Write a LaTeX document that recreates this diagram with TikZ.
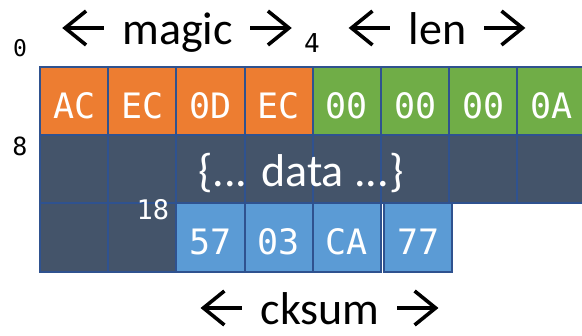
\documentclass[tikz,border=0pt]{standalone}
\usepackage{fontspec}
\setmainfont{Carlito}
\newfontfamily\hexfont{DejaVu Sans Mono}
\definecolor{magicfill}{HTML}{ED7D31}
\definecolor{lenfill}{HTML}{70AD47}
\definecolor{datafill}{HTML}{44546A}
\definecolor{sumfill}{HTML}{5B9BD5}
\definecolor{cellborder}{HTML}{2F528F}
\begin{document}
\begin{tikzpicture}[x=1pt,y=-1pt,
  cell/.style={draw=cellborder, line width=2pt, minimum width=68.2pt,
    minimum height=68.2pt, inner sep=0pt, outer sep=0pt, anchor=north west,
    text=white, font=\hexfont\fontsize{35}{35}\selectfont,
    text height=35pt, text depth=0pt},
  fieldlbl/.style={anchor=base, inner sep=0pt, font=\fontsize{46}{46}\selectfont},
  offset/.style={inner sep=0pt, font=\hexfont\fontsize{#1}{#1}\selectfont},
  arrowline/.style={line width=3.6pt, line join=miter, line cap=butt},
  pics/leftarrow/.style={code={
    \draw[arrowline] (38.5,0) -- (0,0);
    \draw[arrowline] (21,-17) -- (0,0) -- (21,17);}},
  pics/rightarrow/.style={code={
    \draw[arrowline] (-38.5,0) -- (0,0);
    \draw[arrowline] (-21,-17) -- (0,0) -- (-21,17);}}]
\useasboundingbox (0,0) rectangle (582,336);

% header row: magic and length
\foreach \t [count=\i from 0] in {AC,EC,0D,EC}
  \node[cell, fill=magicfill] (m\i) at ({40+68.2*\i},67) {\t};
\foreach \t [count=\i from 0] in {00,00,00,0A}
  \node[cell, fill=lenfill] (l\i) at ({40+68.2*(\i+4)},67) {\t};

% payload row
\foreach \i in {0,...,7}
  \node[cell, fill=datafill] (d\i) at ({40+68.2*\i},135.2) {};

% last row: end of payload, then checksum
\foreach \i in {0,1}
  \node[cell, fill=datafill] (e\i) at ({40+68.2*\i},203.4) {};
\foreach \t [count=\i from 0] in {57,03,CA}
  \node[cell, fill=sumfill] (c\i) at ({40+68.2*(\i+2)},203.4) {\t};
\node[cell, fill=sumfill] (c3) at (384,203.4) {77};

% field labels, each flanked by a pair of arrows
\node[fieldlbl] (magic) at (177.5,45) {magic};
\node[fieldlbl] (len) at (437.5,45) {len};
\node[fieldlbl] (cksum) at (320,325) {cksum};
\foreach \f in {magic,len,cksum} {
  \pic at ([shift={(-57,-17)}]\f.base west) {leftarrow};
  \pic at ([shift={(56,-17)}]\f.base east) {rightarrow};
}
\node[fieldlbl, text=white] (data) at (301,187) {\{... data ...\}};

% byte offsets
\node[offset=23] (off0) at (20,48) {0};
\node[offset=26] (off4) at (312,43) {4};
\node[offset=25] (off8) at (20,146) {8};
\node[offset=27, text=white] (off18) at (153,210) {18};
\end{tikzpicture}
\end{document}
